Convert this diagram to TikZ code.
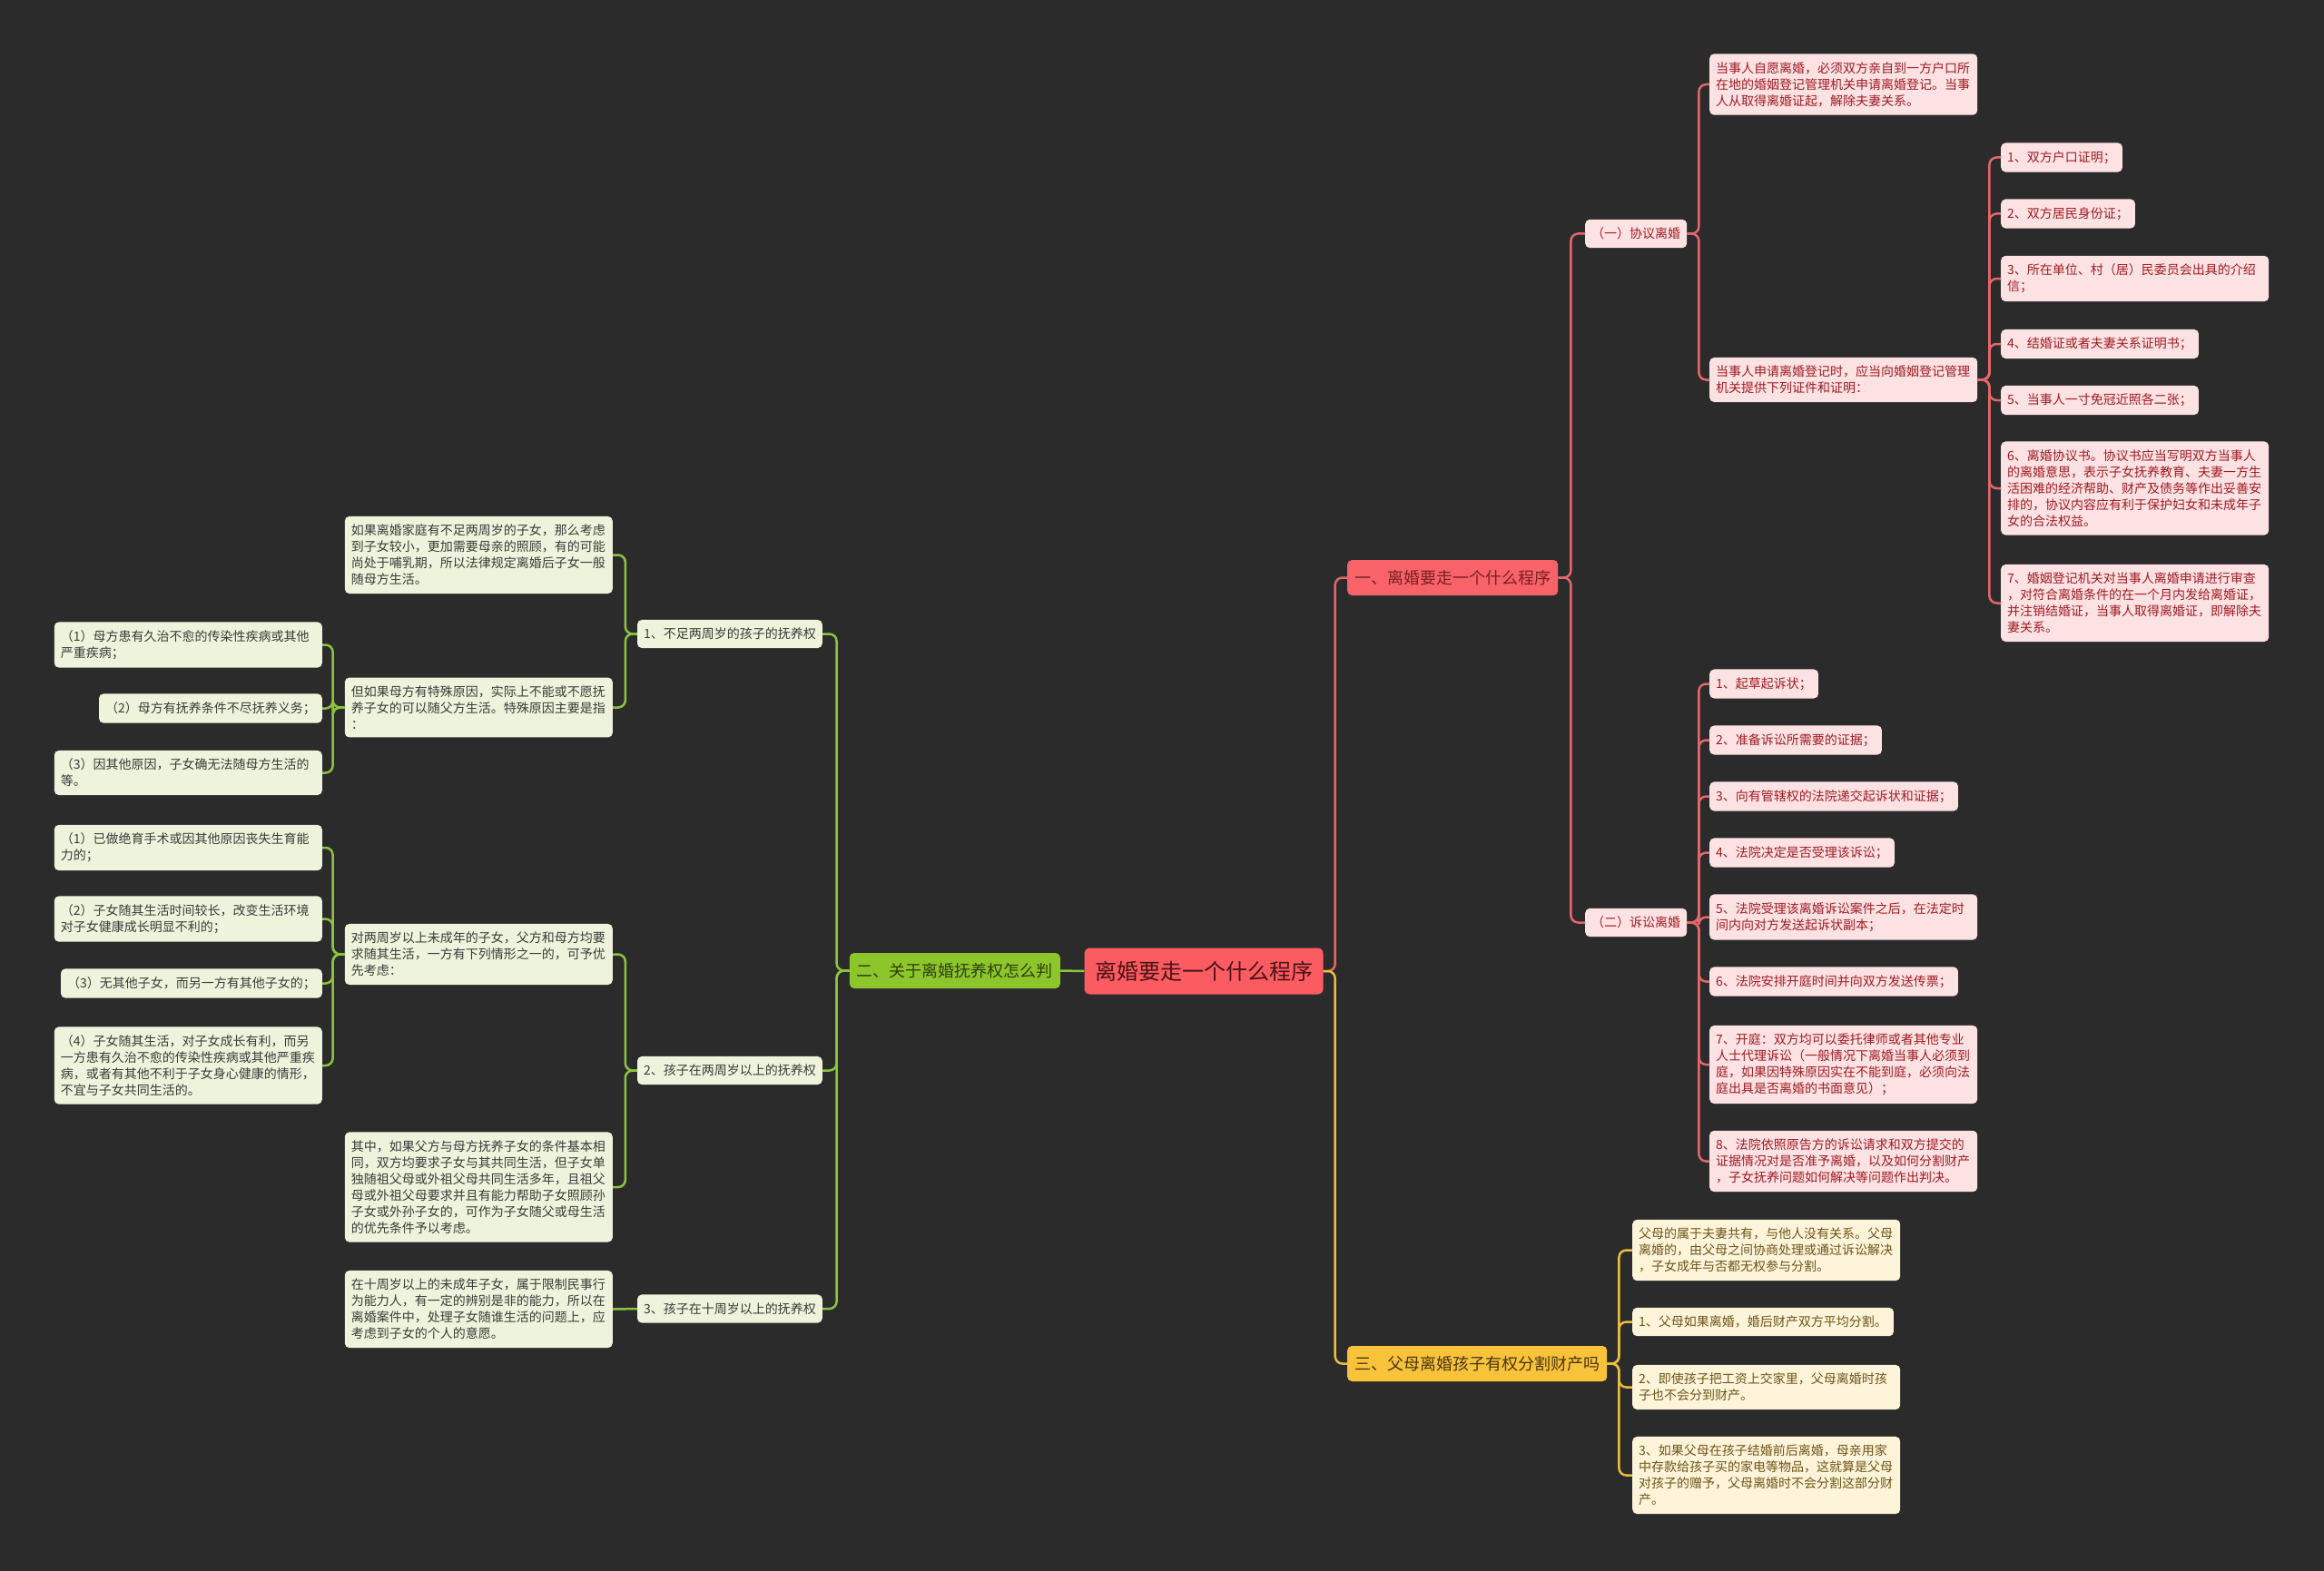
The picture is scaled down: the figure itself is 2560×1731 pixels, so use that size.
\documentclass[tikz,border=0pt]{standalone}
\usepackage{fontspec}
\setmainfont{Noto Sans CJK SC}
\definecolor{mapBg}{HTML}{2B2B2B}
\definecolor{rootRed}{HTML}{FA5C62}
\definecolor{rootText}{HTML}{4A1215}
\definecolor{topicRed}{HTML}{F8636A}
\definecolor{topicRedText}{HTML}{7A1E22}
\definecolor{pinkFill}{HTML}{FDE2E3}
\definecolor{pinkText}{HTML}{9E1B22}
\definecolor{redLine}{HTML}{E5666B}
\definecolor{topicGreen}{HTML}{8DC62B}
\definecolor{topicGreenText}{HTML}{2D3F0E}
\definecolor{greenFill}{HTML}{EEF4DB}
\definecolor{greenText}{HTML}{3A3A3A}
\definecolor{greenLine}{HTML}{8CC43F}
\definecolor{topicYellow}{HTML}{F8C33B}
\definecolor{topicYellowText}{HTML}{4A3510}
\definecolor{yellowFill}{HTML}{FDF4DA}
\definecolor{yellowText}{HTML}{6E5417}
\definecolor{yellowLine}{HTML}{E9BD3E}
\usepackage{tikz}

\begin{document}
\begin{tikzpicture}[x=1pt, y=-1pt,
  box/.style={rounded corners=5pt, inner xsep=7pt, inner ysep=9pt, align=left,
    font=\fontsize{14}{18}\selectfont},
  wrap/.style={text width=281pt},
  pleaf/.style={box, fill=pinkFill, text=pinkText},
  gleaf/.style={box, fill=greenFill, text=greenText},
  yleaf/.style={box, fill=yellowFill, text=yellowText},
  topic/.style={rounded corners=5pt, inner xsep=8pt, minimum height=39pt,
    font=\fontsize{18}{22}\selectfont},
  redtopic/.style={topic, fill=topicRed, text=topicRedText},
  greentopic/.style={topic, fill=topicGreen, text=topicGreenText},
  yellowtopic/.style={topic, fill=topicYellow, text=topicYellowText},
  rootbox/.style={rounded corners=6pt, fill=rootRed, text=rootText,
    minimum width=263pt, minimum height=51pt, font=\fontsize{24}{28}\selectfont},
  rline/.style={draw=redLine, line width=2.5pt, rounded corners=8pt},
  gline/.style={draw=greenLine, line width=2.5pt, rounded corners=8pt},
  yline/.style={draw=yellowLine, line width=2.5pt, rounded corners=8pt}]
  \fill[mapBg] (0,0) rectangle (2560,1731);

  % centre and main topics
  \node[rootbox] (root) at (1326,1070) {离婚要走一个什么程序};
  \node[redtopic, anchor=west] (t1) at (1484,636.5) {一、离婚要走一个什么程序};
  \node[greentopic, anchor=east] (t2) at (1168,1069.5) {二、关于离婚抚养权怎么判};
  \node[yellowtopic, anchor=west] (t3) at (1484,1502.5) {三、父母离婚孩子有权分割财产吗};

  % branch one
  \node[pleaf, anchor=west, minimum width=111pt] (agree) at (1746,257.5) {（一）协议离婚};
  \node[pleaf, anchor=west, minimum width=111pt] (suit) at (1746,1016.5) {（二）诉讼离婚};
  \node[pleaf, wrap, anchor=west] (agreeA) at (1883,93) {当事人自愿离婚，必须双方亲自到一方户口所\\在地的婚姻登记管理机关申请离婚登记。当事\\人从取得离婚证起，解除夫妻关系。};
  \node[pleaf, wrap, anchor=west] (agreeB) at (1883,418.5) {当事人申请离婚登记时，应当向婚姻登记管理\\机关提供下列证件和证明：};
  \node[pleaf, anchor=west] (doc1) at (2204,173.5) {1、双方户口证明；};
  \node[pleaf, anchor=west] (doc2) at (2204,235.5) {2、双方居民身份证；};
  \node[pleaf, wrap, anchor=west] (doc3) at (2204,307) {3、所在单位、村（居）民委员会出具的介绍\\信；};
  \node[pleaf, anchor=west] (doc4) at (2204,379) {4、结婚证或者夫妻关系证明书；};
  \node[pleaf, anchor=west] (doc5) at (2204,441) {5、当事人一寸免冠近照各二张；};
  \node[pleaf, wrap, anchor=west] (doc6) at (2204,538) {6、离婚协议书。协议书应当写明双方当事人\\的离婚意思，表示子女抚养教育、夫妻一方生\\活困难的经济帮助、财产及债务等作出妥善安\\排的，协议内容应有利于保护妇女和未成年子\\女的合法权益。};
  \node[pleaf, wrap, anchor=west] (doc7) at (2204,664.5) {7、婚姻登记机关对当事人离婚申请进行审查\\，对符合离婚条件的在一个月内发给离婚证，\\并注销结婚证，当事人取得离婚证，即解除夫\\妻关系。};
  \node[pleaf, anchor=west] (lit1) at (1883,753.5) {1、起草起诉状；};
  \node[pleaf, anchor=west] (lit2) at (1883,815.5) {2、准备诉讼所需要的证据；};
  \node[pleaf, anchor=west] (lit3) at (1883,877.5) {3、向有管辖权的法院递交起诉状和证据；};
  \node[pleaf, anchor=west] (lit4) at (1883,939.5) {4、法院决定是否受理该诉讼；};
  \node[pleaf, wrap, anchor=west] (lit5) at (1883,1010.5) {5、法院受理该离婚诉讼案件之后，在法定时\\间内向对方发送起诉状副本；};
  \node[pleaf, anchor=west] (lit6) at (1883,1081.5) {6、法院安排开庭时间并向双方发送传票；};
  \node[pleaf, wrap, anchor=west] (lit7) at (1883,1173) {7、开庭：双方均可以委托律师或者其他专业\\人士代理诉讼（一般情况下离婚当事人必须到\\庭，如果因特殊原因实在不能到庭，必须向法\\庭出具是否离婚的书面意见）；};
  \node[pleaf, wrap, anchor=west] (lit8) at (1883,1279.5) {8、法院依照原告方的诉讼请求和双方提交的\\证据情况对是否准予离婚，以及如何分割财产\\，子女抚养问题如何解决等问题作出判决。};

  % branch three
  \node[yleaf, wrap, anchor=west] (prop0) at (1798,1377.5) {父母的属于夫妻共有，与他人没有关系。父母\\离婚的，由父母之间协商处理或通过诉讼解决\\，子女成年与否都无权参与分割。};
  \node[yleaf, anchor=west] (prop1) at (1798,1456.5) {1、父母如果离婚，婚后财产双方平均分割。};
  \node[yleaf, wrap, anchor=west] (prop2) at (1798,1528.5) {2、即使孩子把工资上交家里，父母离婚时孩\\子也不会分到财产。};
  \node[yleaf, wrap, anchor=west] (prop3) at (1798,1625.5) {3、如果父母在孩子结婚前后离婚，母亲用家\\中存款给孩子买的家电等物品，这就算是父母\\对孩子的赠予，父母离婚时不会分割这部分财\\产。};

  % branch two
  \node[gleaf, anchor=east] (c1) at (906,698.5) {1、不足两周岁的孩子的抚养权};
  \node[gleaf, anchor=east] (c2) at (906,1179.5) {2、孩子在两周岁以上的抚养权};
  \node[gleaf, anchor=east] (c3) at (906,1442) {3、孩子在十周岁以上的抚养权};
  \node[gleaf, wrap, anchor=east] (c1a) at (675,611.5) {如果离婚家庭有不足两周岁的子女，那么考虑\\到子女较小，更加需要母亲的照顾，有的可能\\尚处于哺乳期，所以法律规定离婚后子女一般\\随母方生活。};
  \node[gleaf, wrap, anchor=east] (c1b) at (675,779.5) {但如果母方有特殊原因，实际上不能或不愿抚\\养子女的可以随父方生活。特殊原因主要是指\\：};
  \node[gleaf, wrap, anchor=east] (c1b1) at (355,710.5) {（1）母方患有久治不愈的传染性疾病或其他\\严重疾病；};
  \node[gleaf, anchor=east] (c1b2) at (355,780.5) {（2）母方有抚养条件不尽抚养义务；};
  \node[gleaf, wrap, anchor=east] (c1b3) at (355,851.5) {（3）因其他原因，子女确无法随母方生活的\\等。};
  \node[gleaf, wrap, anchor=east] (c2a) at (675,1051.5) {对两周岁以上未成年的子女，父方和母方均要\\求随其生活，一方有下列情形之一的，可予优\\先考虑：};
  \node[gleaf, wrap, anchor=east] (c2b) at (675,1308) {其中，如果父方与母方抚养子女的条件基本相\\同，双方均要求子女与其共同生活，但子女单\\独随祖父母或外祖父母共同生活多年，且祖父\\母或外祖父母要求并且有能力帮助子女照顾孙\\子女或外孙子女的，可作为子女随父或母生活\\的优先条件予以考虑。};
  \node[gleaf, wrap, anchor=east] (c2a1) at (355,934) {（1）已做绝育手术或因其他原因丧失生育能\\力的；};
  \node[gleaf, wrap, anchor=east] (c2a2) at (355,1012.5) {（2）子女随其生活时间较长，改变生活环境\\对子女健康成长明显不利的；};
  \node[gleaf, anchor=east] (c2a3) at (355,1083.5) {（3）无其他子女，而另一方有其他子女的；};
  \node[gleaf, wrap, anchor=east] (c2a4) at (355,1174) {（4）子女随其生活，对子女成长有利，而另\\一方患有久治不愈的传染性疾病或其他严重疾\\病，或者有其他不利于子女身心健康的情形，\\不宜与子女共同生活的。};
  \node[gleaf, wrap, anchor=east] (c3a) at (675,1442.5) {在十周岁以上的未成年子女，属于限制民事行\\为能力人，有一定的辨别是非的能力，所以在\\离婚案件中，处理子女随谁生活的问题上，应\\考虑到子女的个人的意愿。};

  % connectors
  \draw[rline] (root.east) -- ++(13,0) |- (t1.west);
  \draw[yline] (root.east) -- ++(13,0) |- (t3.west);
  \draw[gline] (root.west) -- (t2.east);
  \draw[rline] (t1.east) -- ++(14,0) |- (agree.west);
  \draw[rline] (t1.east) -- ++(14,0) |- (suit.west);
  \draw[rline] (agree.east) -- ++(13,0) |- (agreeA.west);
  \draw[rline] (agree.east) -- ++(13,0) |- (agreeB.west);
  \draw[rline] (agreeB.east) -- ++(13,0) |- (doc1.west);
  \draw[rline] (agreeB.east) -- ++(13,0) |- (doc2.west);
  \draw[rline] (agreeB.east) -- ++(13,0) |- (doc3.west);
  \draw[rline] (agreeB.east) -- ++(13,0) |- (doc4.west);
  \draw[rline] (agreeB.east) -- ++(13,0) |- (doc5.west);
  \draw[rline] (agreeB.east) -- ++(13,0) |- (doc6.west);
  \draw[rline] (agreeB.east) -- ++(13,0) |- (doc7.west);
  \draw[rline] (suit.east) -- ++(13,0) |- (lit1.west);
  \draw[rline] (suit.east) -- ++(13,0) |- (lit2.west);
  \draw[rline] (suit.east) -- ++(13,0) |- (lit3.west);
  \draw[rline] (suit.east) -- ++(13,0) |- (lit4.west);
  \draw[rline] (suit.east) -- ++(13,0) |- (lit5.west);
  \draw[rline] (suit.east) -- ++(13,0) |- (lit6.west);
  \draw[rline] (suit.east) -- ++(13,0) |- (lit7.west);
  \draw[rline] (suit.east) -- ++(13,0) |- (lit8.west);
  \draw[yline] (t3.east) -- ++(13,0) |- (prop0.west);
  \draw[yline] (t3.east) -- ++(13,0) |- (prop1.west);
  \draw[yline] (t3.east) -- ++(13,0) |- (prop2.west);
  \draw[yline] (t3.east) -- ++(13,0) |- (prop3.west);
  \draw[gline] (t2.west) -- ++(-14,0) |- (c1.east);
  \draw[gline] (t2.west) -- ++(-14,0) |- (c2.east);
  \draw[gline] (t2.west) -- ++(-14,0) |- (c3.east);
  \draw[gline] (c1.west) -- ++(-13,0) |- (c1a.east);
  \draw[gline] (c1.west) -- ++(-13,0) |- (c1b.east);
  \draw[gline] (c1b.west) -- ++(-13,0) |- (c1b1.east);
  \draw[gline] (c1b.west) -- ++(-13,0) |- (c1b2.east);
  \draw[gline] (c1b.west) -- ++(-13,0) |- (c1b3.east);
  \draw[gline] (c2.west) -- ++(-13,0) |- (c2a.east);
  \draw[gline] (c2.west) -- ++(-13,0) |- (c2b.east);
  \draw[gline] (c2a.west) -- ++(-13,0) |- (c2a1.east);
  \draw[gline] (c2a.west) -- ++(-13,0) |- (c2a2.east);
  \draw[gline] (c2a.west) -- ++(-13,0) |- (c2a3.east);
  \draw[gline] (c2a.west) -- ++(-13,0) |- (c2a4.east);
  \draw[gline] (c3.west) -- (c3a.east);
\end{tikzpicture}
\end{document}
